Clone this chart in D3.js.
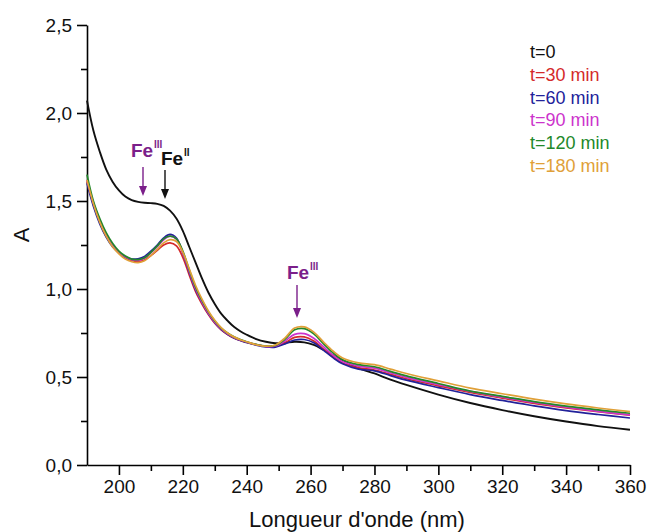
<!DOCTYPE html>
<html><head><meta charset="utf-8">
<script src="https://cdn.jsdelivr.net/npm/d3@7"></script>
<style>
html,body{margin:0;padding:0;background:#fff;}
svg{display:block;font-family:"Liberation Sans",Arial,sans-serif;}
</style></head>
<body><svg id="c" width="647" height="532"></svg>
<script>
const wavelengths = [190,192,194,196,198,200,202,204,206,208,210,212,214,216,218,220,222,224,226,228,230,232,234,236,238,240,243,246,249,252,255,258,261,264,267,270,275,280,285,290,300,310,320,330,340,350,360];
const t0 = [2.07,1.90,1.78,1.68,1.61,1.56,1.525,1.505,1.495,1.49,1.488,1.484,1.472,1.445,1.40,1.33,1.24,1.15,1.06,0.98,0.915,0.86,0.82,0.785,0.76,0.74,0.715,0.70,0.692,0.695,0.70,0.697,0.682,0.655,0.625,0.595,0.55,0.52,0.485,0.455,0.40,0.352,0.312,0.277,0.247,0.221,0.20];
const t30 = [1.61,1.48,1.38,1.30,1.245,1.205,1.178,1.162,1.157,1.165,1.19,1.22,1.25,1.262,1.245,1.18,1.08,0.985,0.915,0.855,0.805,0.768,0.742,0.722,0.708,0.697,0.683,0.674,0.674,0.695,0.725,0.728,0.705,0.66,0.615,0.58,0.552,0.54,0.515,0.49,0.45,0.412,0.38,0.35,0.325,0.303,0.283];
const t60 = [1.60,1.47,1.37,1.295,1.24,1.205,1.18,1.17,1.172,1.185,1.215,1.25,1.29,1.31,1.29,1.205,1.095,0.995,0.925,0.86,0.81,0.77,0.743,0.722,0.707,0.696,0.681,0.671,0.67,0.688,0.71,0.713,0.695,0.653,0.61,0.575,0.545,0.535,0.508,0.482,0.44,0.40,0.367,0.336,0.309,0.287,0.267];
const t90 = [1.62,1.49,1.39,1.31,1.25,1.21,1.183,1.167,1.163,1.175,1.205,1.24,1.28,1.30,1.283,1.205,1.10,1.0,0.925,0.862,0.812,0.773,0.746,0.725,0.71,0.699,0.684,0.674,0.676,0.705,0.742,0.746,0.72,0.672,0.625,0.588,0.562,0.55,0.524,0.498,0.457,0.418,0.386,0.355,0.328,0.305,0.285];
const t120 = [1.65,1.50,1.40,1.32,1.26,1.215,1.187,1.17,1.167,1.178,1.208,1.245,1.285,1.30,1.285,1.215,1.11,1.01,0.935,0.87,0.818,0.778,0.75,0.728,0.713,0.70,0.685,0.676,0.68,0.715,0.768,0.775,0.745,0.69,0.638,0.598,0.57,0.558,0.532,0.506,0.463,0.42,0.39,0.36,0.335,0.313,0.294];
const t180 = [1.62,1.485,1.38,1.30,1.24,1.20,1.17,1.155,1.15,1.16,1.19,1.225,1.262,1.28,1.27,1.21,1.115,1.02,0.942,0.875,0.822,0.78,0.75,0.728,0.712,0.70,0.684,0.675,0.682,0.722,0.778,0.785,0.755,0.70,0.648,0.608,0.58,0.57,0.545,0.52,0.478,0.437,0.405,0.374,0.347,0.324,0.303];
const seriesNames = ["t=0","t=30 min","t=60 min","t=90 min","t=120 min","t=180 min"];
const seriesColors = ["#111111","#d42a2a","#22229a","#cc33cc","#22882a","#e0a038"];
const xTicks = [200,220,240,260,280,300,320,340,360];
const yTicks = [0,0.5,1.0,1.5,2.0,2.5];

const series = [t0,t30,t60,t90,t120,t180];
const svg = d3.select("#c");
const x = d3.scaleLinear().domain([190,360]).range([87,630]);
const y = d3.scaleLinear().domain([0,2.5]).range([465,25]);
const fmt = d => d3.format(".1f")(d).replace(".", ",");

// axes
svg.append("g").attr("transform","translate(0,465)")
  .call(d3.axisBottom(x).tickValues(xTicks).tickSize(10).tickSizeOuter(0).tickPadding(5));
svg.append("g").attr("transform","translate(0,465)")
  .call(d3.axisBottom(x).tickValues(d3.range(210,360,20)).tickSize(6).tickFormat("").tickSizeOuter(0))
  .select(".domain").remove();
svg.append("g").attr("transform","translate(87,0)")
  .call(d3.axisLeft(y).tickValues(yTicks).tickSize(10).tickSizeOuter(0).tickFormat(fmt).tickPadding(5));
svg.append("g").attr("transform","translate(87,0)")
  .call(d3.axisLeft(y).tickValues([0.25,0.75,1.25,1.75,2.25]).tickSize(6).tickFormat("").tickSizeOuter(0))
  .select(".domain").remove();
svg.selectAll(".domain").attr("stroke","#000").attr("stroke-width",1.6);
svg.selectAll(".tick line").attr("stroke","#000").attr("stroke-width",1.6);
svg.selectAll(".tick text").attr("font-size",19).attr("fill","#111").attr("font-family","Liberation Sans, Arial, sans-serif");

// titles
svg.append("text").attr("x",357).attr("y",527).attr("text-anchor","middle")
  .attr("font-size",22).attr("fill","#111").text("Longueur d'onde (nm)");
svg.append("text").attr("transform","translate(29,235) rotate(-90)").attr("text-anchor","middle")
  .attr("font-size",22).attr("fill","#111").text("A");

// lines
const line = d3.line().x((d,i)=>x(wavelengths[i])).y(d=>y(d)).curve(d3.curveCatmullRom.alpha(0.5));
const plot = svg.append("g");
series.forEach((s,k)=>{
  plot.append("path").datum(s).attr("d",line).attr("fill","none")
    .attr("stroke",seriesColors[k]).attr("stroke-width",k===0?1.9:1.7).attr("stroke-linejoin","round");
});

// legend
const leg = svg.append("g");
seriesNames.forEach((n,i)=>{
  leg.append("text").attr("x",530).attr("y",58+i*22.8).attr("font-size",18)
    .attr("fill",seriesColors[i]).text(n);
});

// annotations
const purple = "#7b1f8a";
function arrow(xp, y1, y2, col){
  svg.append("line").attr("x1",xp).attr("x2",xp).attr("y1",y1).attr("y2",y2-6)
    .attr("stroke",col).attr("stroke-width",1.4);
  svg.append("path").attr("d",`M${xp-4},${y2-10} L${xp+4},${y2-10} L${xp},${y2} Z`).attr("fill",col);
}
function feLabel(xp, yp, sup, col){
  const g = svg.append("g");
  g.append("text").attr("x",xp).attr("y",yp).attr("font-size",19)
    .attr("font-weight","bold").attr("fill",col).text("Fe");
  g.append("text").attr("x",xp+23).attr("y",yp-9).attr("font-size",10)
    .attr("font-weight","bold").attr("fill",col).text(sup);
}
feLabel(131,157,"III",purple);
feLabel(161,165,"II","#111");
arrow(143,167,196,purple);
arrow(165,170,199,"#111");
feLabel(287,279,"III",purple);
arrow(297,285,318,purple);
</script></body></html>
